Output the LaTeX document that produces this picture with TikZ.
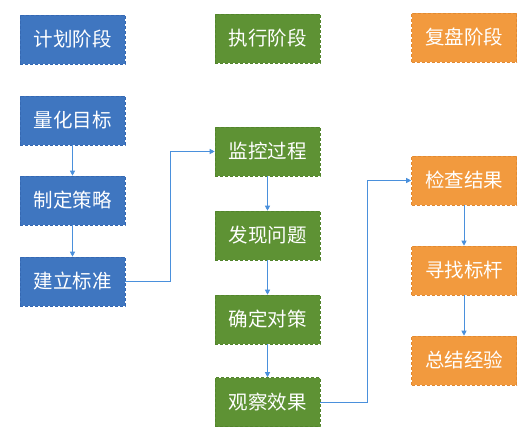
\documentclass[tikz,border=0pt]{standalone}
\usepackage{fontspec}
\newfontfamily\cjk{Noto Sans CJK SC}
\usetikzlibrary{arrows.meta}
\definecolor{bluebox}{HTML}{3F76C0}
\definecolor{blueedge}{HTML}{3568B2}
\definecolor{greenbox}{HTML}{5E9234}
\definecolor{greenedge}{HTML}{52842C}
\definecolor{orangebox}{HTML}{F29A3E}
\definecolor{orangeedge}{HTML}{E28A32}
\definecolor{linkblue}{HTML}{4A90DC}
\tikzset{
  x=1pt, y=-1pt,
  box/.style={minimum width=105pt, minimum height=49pt, inner sep=0pt,
    text=white, font=\cjk\fontsize{19.5}{21}\selectfont, line width=0.6pt, densely dashed},
  bbox/.style={box, fill=bluebox, draw=blueedge},
  gbox/.style={box, fill=greenbox, draw=greenedge},
  obox/.style={box, fill=orangebox, draw=orangeedge},
  link/.style={draw=linkblue, line width=0.9pt, -{Triangle[length=5pt,width=5pt]}},
}
\begin{document}
\begin{tikzpicture}
\useasboundingbox (0,0) rectangle (532,438);
\fill[white] (0,0) rectangle (532,438);
% blue column
\node[bbox] (p0) at (72.5,39.5) {计划阶段};
\node[bbox] (p1) at (72.5,120.5) {量化目标};
\node[bbox] (p2) at (72.5,200.5) {制定策略};
\node[bbox] (p3) at (72.5,281.5) {建立标准};
% green column
\node[gbox] (e0) at (267.5,38.5) {执行阶段};
\node[gbox] (e1) at (267.5,151.5) {监控过程};
\node[gbox] (e2) at (267.5,235.5) {发现问题};
\node[gbox] (e3) at (267.5,319.5) {确定对策};
\node[gbox] (e4) at (267.5,402) {观察效果};
% orange column
\node[obox] (r0) at (464,37.5) {复盘阶段};
\node[obox] (r1) at (464,180.5) {检查结果};
\node[obox] (r2) at (464,270.5) {寻找标杆};
\node[obox] (r3) at (464,360.5) {总结经验};
% connectors
\draw[link] (p1) -- (p2);
\draw[link] (p2) -- (p3);
\draw[link] (p3.east) -- (170,281.5) |- (e1.west);
\draw[link] (e1) -- (e2);
\draw[link] (e2) -- (e3);
\draw[link] (e3) -- (e4);
\draw[link] (e4.east) -- (367,402) |- (r1.west);
\draw[link] (r1) -- (r2);
\draw[link] (r2) -- (r3);
\end{tikzpicture}
\end{document}
